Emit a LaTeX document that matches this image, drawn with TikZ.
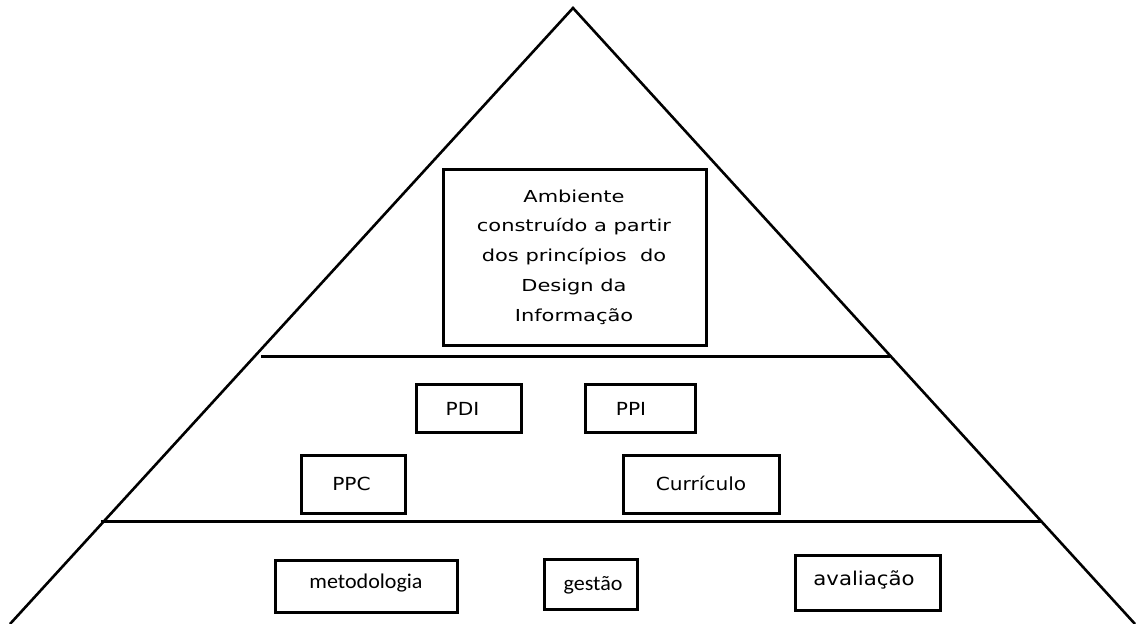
\documentclass[tikz,border=0pt]{standalone}
\usepackage{fontspec}
\setmainfont{DejaVu Sans}[FakeStretch=1.12]
\newfontfamily\widefont{DejaVu Sans}[FakeStretch=1.27]
\newfontfamily\carfont{Carlito}[FakeStretch=1.05]
\begin{document}
\begin{tikzpicture}[x=1pt,y=-1pt,
  edge/.style={line width=2.6pt},
  tier/.style={line width=3pt},
  box/.style={draw,line width=3pt,inner sep=0pt,minimum width=#1},
  lbl/.style={inner sep=0pt,font=\fontsize{18}{20}\selectfont}]
  \useasboundingbox (0,0) rectangle (1136,624);
  % pyramid outline
  \coordinate (apex) at (573,8);
  \coordinate (bl) at (10,624);
  \coordinate (br) at (1135,624);
  \draw[edge,line join=miter] (bl) -- (apex) -- (br);
  % tier separators
  \coordinate (u1) at (261,356);
  \coordinate (u2) at (890,356);
  \coordinate (l1) at (101,521);
  \coordinate (l2) at (1041,521);
  \draw[tier] (u1) -- (u2);
  \draw[tier] (l1) -- (l2);
  % top tier
  \node[box=263pt,minimum height=176pt] (amb) at (574.5,257) {};
  \node[align=center,inner sep=0pt,font=\widefont\fontsize{16.5}{29.75}\selectfont] (ambt) at (574,257)
    {Ambiente\\construído a partir\\dos princípios\ \ do\\Design da\\Informação};
  % middle tier
  \node[box=105pt,minimum height=48pt] (pdi) at (468.5,408) {};
  \node[lbl] at (462.5,409) {PDI};
  \node[box=110pt,minimum height=48pt] (ppi) at (640,408) {};
  \node[lbl] at (631,409) {PPI};
  \node[box=104pt,minimum height=58pt] (ppc) at (353,484) {};
  \node[lbl] at (351.5,484) {PPC};
  \node[box=156pt,minimum height=58pt] (cur) at (701,484) {};
  \node[lbl] at (701,483) {Currículo};
  % bottom tier
  \node[box=182pt,minimum height=52pt] (met) at (366.5,586) {};
  \node[inner sep=0pt,font=\carfont\fontsize{21}{24}\selectfont] at (366,583) {metodologia};
  \node[box=93pt,minimum height=50pt] (ges) at (591,584.5) {};
  \node[inner sep=0pt,font=\carfont\fontsize{21}{24}\selectfont] at (593,585) {gestão};
  \node[box=145pt,minimum height=55pt] (ava) at (868,583) {};
  \node[inner sep=0pt,font=\fontsize{19}{20}\selectfont] at (864,580) {avaliação};
\end{tikzpicture}
\end{document}
